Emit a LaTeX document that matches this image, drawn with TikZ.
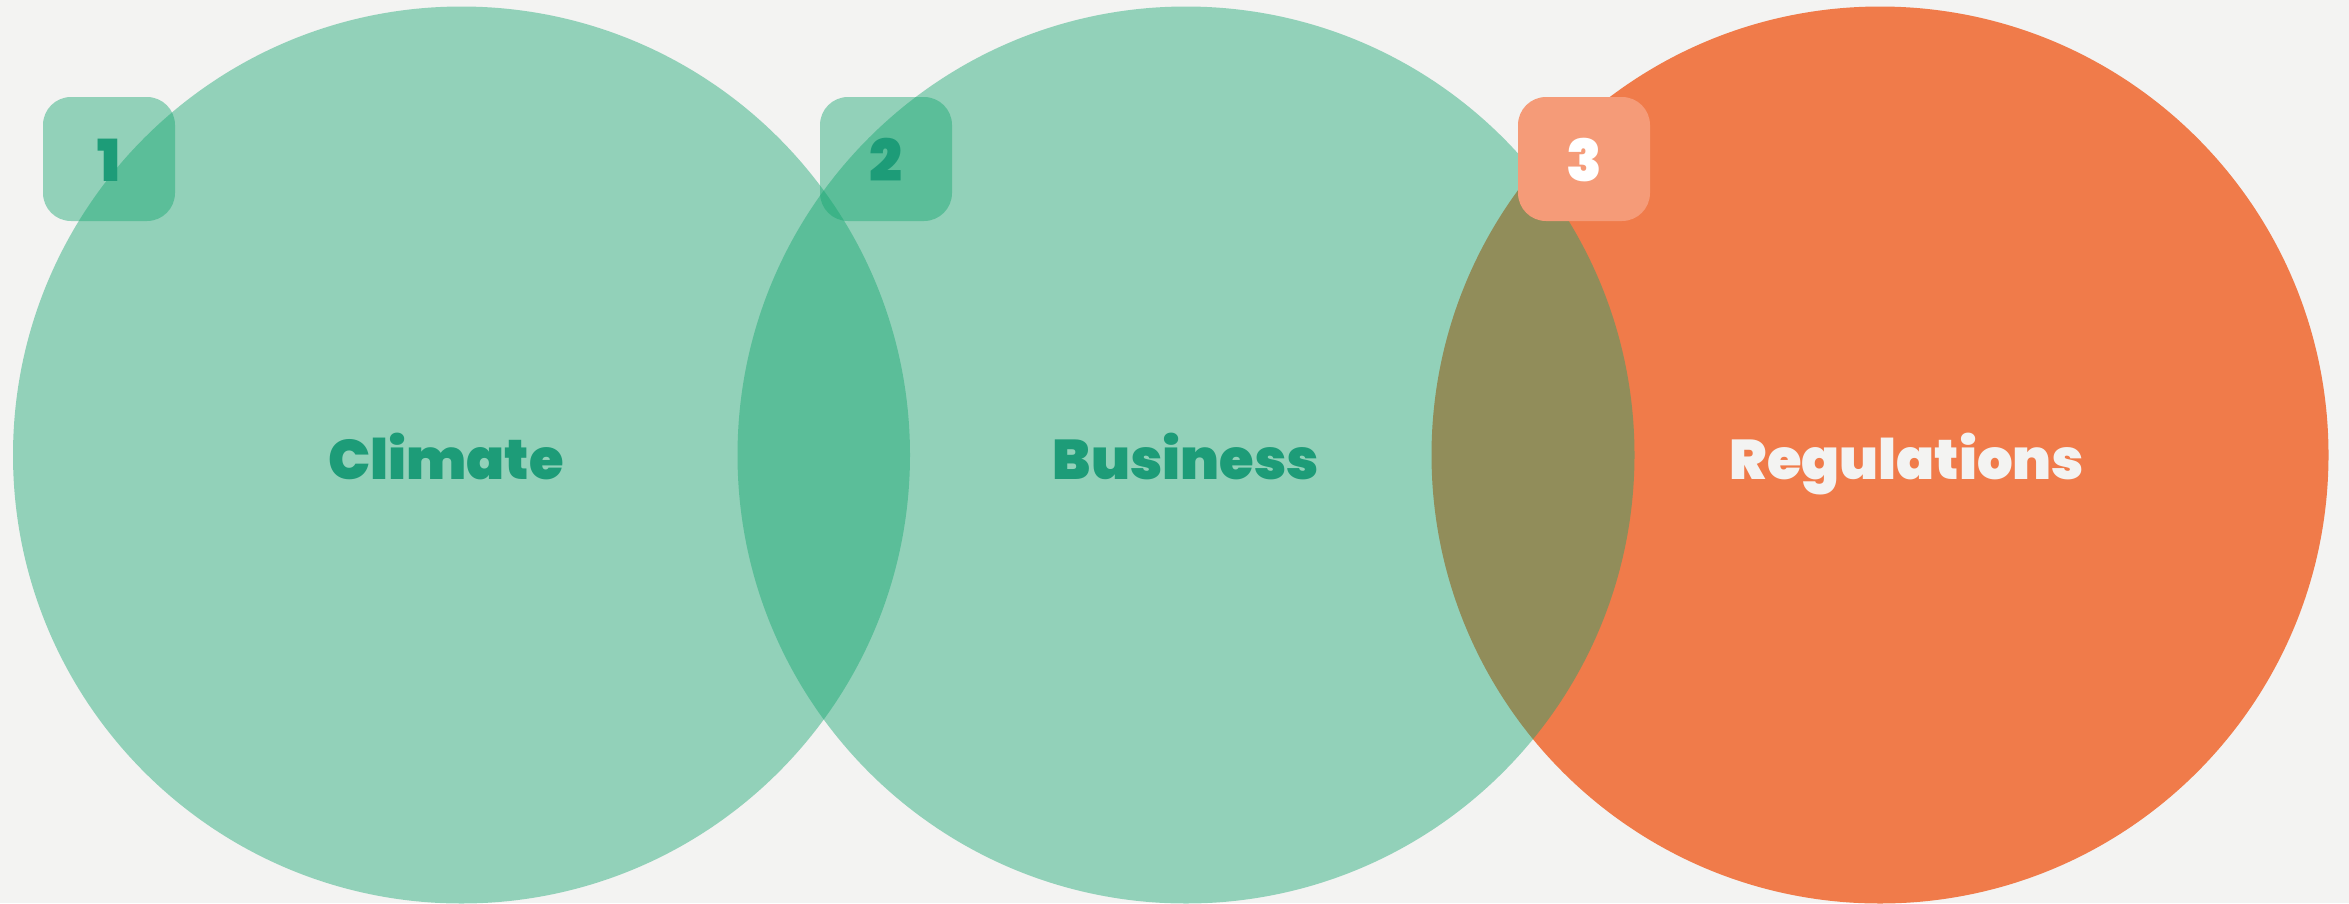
\documentclass[tikz,border=0pt]{standalone}
\usepackage{fontspec}
\newfontfamily\labfont{Poppins Black}
\definecolor{bg}{RGB}{243,243,242}
\definecolor{gbase}{RGB}{20,166,112}
\definecolor{gtext}{RGB}{29,156,120}
\definecolor{orng}{RGB}{240,123,74}
\definecolor{salmon}{RGB}{245,155,120}
\tikzset{
  venn/.style={circle, inner sep=0pt, minimum size=897pt, draw=none},
  greenset/.style={venn, fill=gbase, fill opacity=0.43},
  badge/.style={rectangle, rounded corners=28pt, minimum width=132pt, minimum height=124pt, inner sep=0pt, draw=none},
  greenbadge/.style={badge, fill=gbase, fill opacity=0.43},
  setlabel/.style={font=\labfont\fontsize{56}{56}\selectfont, anchor=base, inner sep=0pt},
  numlabel/.style={font=\labfont\fontsize{58}{58}\selectfont, anchor=base, inner sep=0pt}
}
\begin{document}
\begin{tikzpicture}[x=1pt,y=-1pt]
\fill[bg] (0,0) rectangle (2349,903);
\useasboundingbox (0,0) rectangle (2349,903);
\node[venn, fill=orng] (c3) at (1880,455) {};
\node[greenset] (c1) at (461.5,455) {};
\node[greenset] (c2) at (1186,455) {};
\node[greenbadge] (b1) at (109,159) {};
\node[greenbadge] (b2) at (886,159) {};
\node[badge, fill=salmon] (b3) at (1584,159) {};
\node[numlabel, text=gtext] (n1) at (109,181) {1};
\node[numlabel, text=gtext] (n2) at (886,181) {2};
\node[numlabel, text=white] (n3) at (1584,181) {3};
\node[setlabel, text=gtext] (l1) at (446,479) {Climate};
\node[setlabel, text=gtext] (l2) at (1186,479) {Business};
\node[setlabel, text=bg] (l3) at (1907,479) {Regulations};
\end{tikzpicture}
\end{document}
